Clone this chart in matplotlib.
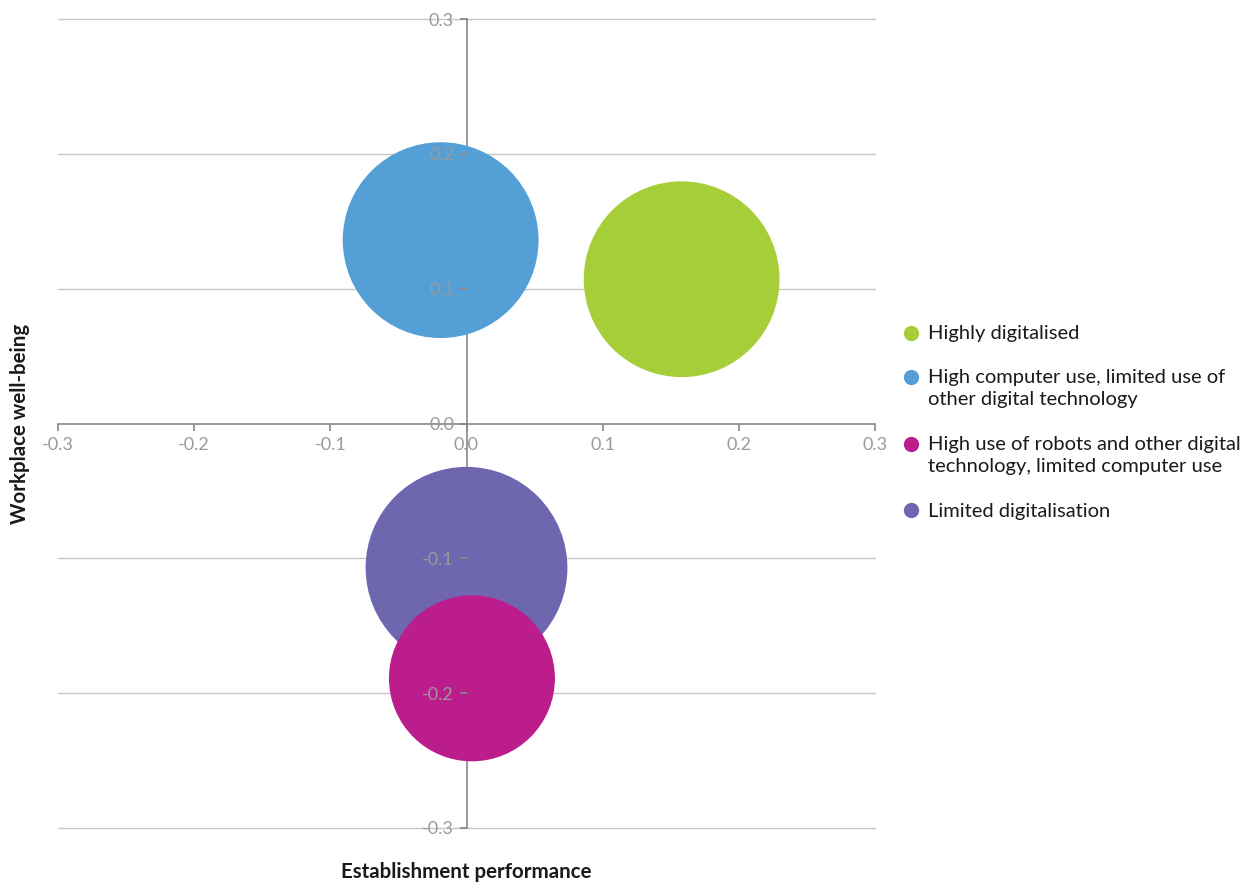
import matplotlib.pyplot as plt

categories = ['Highly digitalised',
              'High computer use, limited use of\nother digital technology',
              'High use of robots and other digital\ntechnology, limited computer use',
              'Limited digitalisation']
performance = [0.158, -0.019, 0.004, 0.0]
wellbeing = [0.107, 0.136, -0.189, -0.107]
bubble_size = [96, 96, 69, 102]
colors = ['#a6ce39', '#539fd6', '#bb1e8c', '#6e67b0']
ticks = [-0.3, -0.2, -0.1, 0.0, 0.1, 0.2, 0.3]

plt.rcParams['font.family'] = ['Lato', 'DejaVu Sans']

fig = plt.figure(figsize=(12.52, 8.84), dpi=100)
ax = fig.add_axes([58 / 1252, 1 - 828 / 884, (875 - 58) / 1252, (828 - 19) / 884])

# gridlines behind the bubbles
for t in ticks:
    if t != 0:
        ax.axhline(t, color='#c6c6c6', lw=1, zorder=0, clip_on=False)

draw_order = [0, 1, 3, 2]
for i in draw_order:
    ax.scatter(performance[i], wellbeing[i], s=bubble_size[i] * 207,
               color=colors[i], edgecolors='none', zorder=2)

ax.set_xlim(-0.3, 0.3)
ax.set_ylim(-0.3, 0.3)
ax.set_xticks(ticks)
ax.set_yticks(ticks)
ax.set_xticklabels([f'{t:.1f}' for t in ticks])
ax.set_yticklabels([f'{t:.1f}' for t in ticks])

for side in ['top', 'right']:
    ax.spines[side].set_visible(False)
ax.spines['left'].set_position(('data', 0))
ax.spines['bottom'].set_position(('data', 0))
for side in ['left', 'bottom']:
    ax.spines[side].set_color('#888888')
    ax.spines[side].set_linewidth(1.2)
    ax.spines[side].set_zorder(1)

ax.set_axisbelow(False)
ax.tick_params(axis='both', colors='#888888', labelcolor='#9a9a9a',
               labelsize=13, length=5, width=1.2)
ax.tick_params(axis='y', pad=4)
ax.tick_params(axis='x', pad=5)
ax.patch.set_visible(False)

fig.text(20 / 1252, 1 - 424 / 884, 'Workplace well-being', rotation=90,
         ha='center', va='center', fontsize=14.8, fontweight='bold', color='#1a1a1a')
fig.text(466 / 1252, 1 - 872 / 884, 'Establishment performance',
         ha='center', va='center', fontsize=14.8, fontweight='bold', color='#1a1a1a')

# legend, drawn by hand so the marker sits on the first line
y = 333
for cat, col in zip(categories, colors):
    fig.add_artist(plt.Line2D([911 / 1252], [1 - y / 884], marker='o', markersize=11,
                              color=col, markeredgecolor='none', linestyle='none',
                              transform=fig.transFigure))
    fig.text(928 / 1252, 1 - (y - 7.5) / 884, cat, ha='left', va='top',
             fontsize=14.5, color='#1a1a1a', linespacing=1.37)
    y += 23.5 * (cat.count('\n') + 1) + 20

fig.savefig('out.png', dpi=100)
